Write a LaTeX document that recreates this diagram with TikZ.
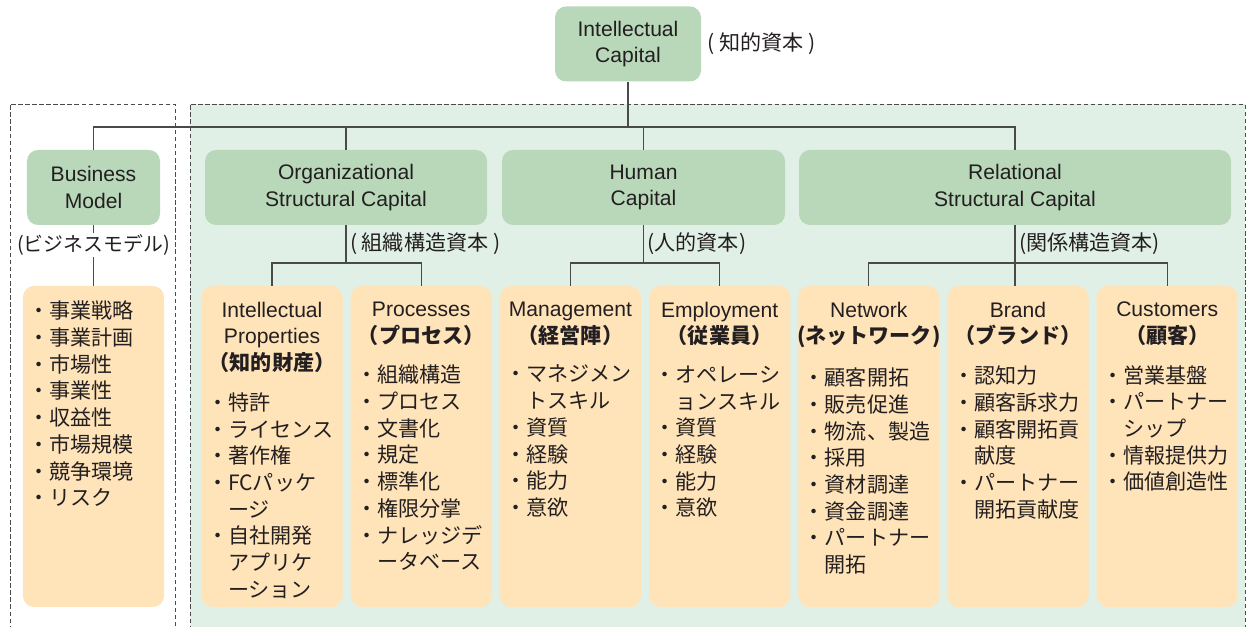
\documentclass[tikz,border=0pt]{standalone}
\usepackage{fontspec}
\setmainfont{Liberation Sans}
\newfontfamily\jp{Noto Sans CJK JP}
\usepackage{tikz}
\usetikzlibrary{positioning,calc}
\definecolor{Verde}{HTML}{B9D8BA}
\definecolor{VerdeClaro}{HTML}{E1F0E6}
\definecolor{Crema}{HTML}{FFE3B9}
\definecolor{GrisOscuro}{HTML}{4A4A4A}
\definecolor{Texto}{HTML}{231F20}

\begin{document}
\begin{tikzpicture}[
  every node/.style={font=\fontsize{12pt}{15.2pt}\selectfont,text=Texto},
  capbox/.style={fill=Verde,rounded corners=0.22cm,align=center,minimum height=1.50cm,inner sep=0pt},
  listbox/.style={fill=Crema,rounded corners=0.22cm,minimum width=2.82cm,minimum height=6.42cm,inner sep=0pt},
  head/.style={anchor=north,align=center,inner sep=0pt},
  list/.style={anchor=north,align=left,text width=2.6cm,inner sep=0pt,font=\fontsize{12pt}{15.2pt}\selectfont\jp},
  tag/.style={inner sep=0pt,font=\fontsize{12pt}{15.2pt}\selectfont\jp},
  link/.style={draw=GrisOscuro,line width=0.6pt},
  frame/.style={draw=GrisOscuro,dashed,dash pattern=on 2.5pt off 1.5pt,line width=0.5pt}
]
  \useasboundingbox (0,0) rectangle (24.94,12.54);

  % Marcos punteados de los dos grupos.
  \draw[frame] (0.20,-0.2) rectangle (3.50,10.46);
  \draw[frame,fill=VerdeClaro] (3.80,-0.2) rectangle (24.90,10.46);

  % Nivel superior y segundo nivel.
  \node[capbox,minimum width=2.92cm] (ic) at (12.56,11.66) {Intellectual\\Capital};
  \node[tag,right=0.12cm of ic] (icj) {( 知的資本 )};
  \node[capbox,minimum width=2.66cm] (bm) at (1.87,8.79) {Business\\Model};
  \node[capbox,minimum width=5.64cm] (org) at (6.92,8.79) {Organizational\\Structural Capital};
  \node[capbox,minimum width=5.66cm] (hum) at (12.87,8.79) {Human\\Capital};
  \node[capbox,minimum width=8.64cm] (rel) at (20.30,8.79) {Relational\\Structural Capital};

  % Cajas de contenido.
  \node[listbox] (bml) at (1.87,3.61) {};
  \node[listbox] (ip) at (5.44,3.61) {};
  \node[listbox,right=0.15cm of ip] (proc) {};
  \node[listbox,right=0.15cm of proc] (mgmt) {};
  \node[listbox,right=0.15cm of mgmt] (emp) {};
  \node[listbox,right=0.15cm of emp] (net) {};
  \node[listbox,right=0.15cm of net] (brand) {};
  \node[listbox,right=0.15cm of brand] (cust) {};

  \node[list] (bmt) at ([yshift=-0.30cm]bml.north)
    {・事業戦略\\・事業計画\\・市場性\\・事業性\\・収益性\\・市場規模\\・競争環境\\・リスク};

  \node[head] (iph) at ([yshift=-0.32cm]ip.north)
    {Intellectual\\Properties\\{\jp\bfseries （知的財産）}};
  \node[list] (ipt) at ([yshift=-0.38cm]iph.south)
    {・特許\\・ライセンス\\・著作権\\・FCパッケ\\　ージ\\・自社開発\\　アプリケ\\　ーション};

  \node[head] (proch) at ([yshift=-0.32cm]proc.north)
    {Processes\\{\jp\bfseries （プロセス）}};
  \node[list] (proct) at ([yshift=-0.38cm]proch.south)
    {・組織構造\\・プロセス\\・文書化\\・規定\\・標準化\\・権限分掌\\・ナレッジデ\\　ータベース};

  \node[head] (mgmth) at ([yshift=-0.32cm]mgmt.north)
    {Management\\{\jp\bfseries （経営陣）}};
  \node[list] (mgmtt) at ([yshift=-0.38cm]mgmth.south)
    {・マネジメン\\　トスキル\\・資質\\・経験\\・能力\\・意欲};

  \node[head] (emph) at ([yshift=-0.32cm]emp.north)
    {Employment\\{\jp\bfseries （従業員）}};
  \node[list] (empt) at ([yshift=-0.38cm]emph.south)
    {・オペレーシ\\　ョンスキル\\・資質\\・経験\\・能力\\・意欲};

  \node[head] (neth) at ([yshift=-0.32cm]net.north)
    {Network\\{\jp\bfseries (ネットワーク)}};
  \node[list] (nett) at ([yshift=-0.38cm]neth.south)
    {・顧客開拓\\・販売促進\\・物流、製造\\・採用\\・資材調達\\・資金調達\\・パートナー\\　開拓};

  \node[head] (brandh) at ([yshift=-0.32cm]brand.north)
    {Brand\\{\jp\bfseries （ブランド）}};
  \node[list] (brandt) at ([yshift=-0.38cm]brandh.south)
    {・認知力\\・顧客訴求力\\・顧客開拓貢\\　献度\\・パートナー\\　開拓貢献度};

  \node[head] (custh) at ([yshift=-0.32cm]cust.north)
    {Customers\\{\jp\bfseries （顧客）}};
  \node[list] (custt) at ([yshift=-0.38cm]custh.south)
    {・営業基盤\\・パートナー\\　シップ\\・情報提供力\\・価値創造性};

  % Conectores del organigrama.
  \coordinate (hub) at (ic.south |- 0,10.0);
  \draw[link] (ic.south) -- (hub);
  \draw[link] (bm.north) |- (hub) -| (rel.north);
  \draw[link] (org.north) -- (org.north |- hub);
  \draw[link] (hum.north) -- (hum.north |- hub);

  \draw[link] (bm.south) -- node[tag,pos=0.33,fill=white,inner sep=1pt,font=\fontsize{11.3pt}{14pt}\selectfont\jp] (bmj) {(ビジネスモデル)} (bml.north);

  \coordinate (orgb) at (org.south |- 0,7.28);
  \draw[link] (org.south) -- node[tag,midway,right=2pt] (orgj) {( 組織構造資本 )} (orgb);
  \draw[link] (ip.north) |- (orgb) -| (proc.north);

  \coordinate (humb) at (hum.south |- 0,7.28);
  \draw[link] (hum.south) -- node[tag,midway,right=2pt] (humj) {(人的資本)} (humb);
  \draw[link] (mgmt.north) |- (humb) -| (emp.north);

  \coordinate (relb) at (rel.south |- 0,7.28);
  \draw[link] (rel.south) -- node[tag,midway,right=2pt] (relj) {(関係構造資本)} (relb);
  \draw[link] (net.north) |- (relb) -| (cust.north);
  \draw[link] (relb) -- (relb |- brand.north);
\end{tikzpicture}
\end{document}
